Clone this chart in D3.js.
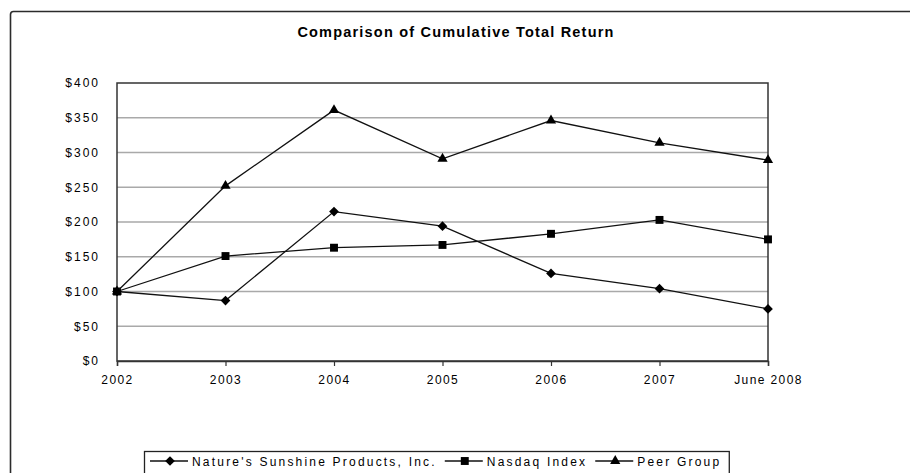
<!DOCTYPE html>
<html>
<head>
<meta charset="utf-8">
<script src="https://cdn.jsdelivr.net/npm/d3@7/dist/d3.min.js"></script>
<style>
  html, body { margin: 0; padding: 0; background: #fff; }
  svg { display: block; }
  text { font-family: "Liberation Sans", Arial, sans-serif; fill: #000; }
</style>
</head>
<body>
<svg id="chart" width="910" height="473"></svg>
<script>
// ---- data ----
const categories = ["2002", "2003", "2004", "2005", "2006", "2007", "June 2008"];
const natureSunshine = [100, 87, 215, 194, 126, 104, 75];
const nasdaqIndex    = [100, 151, 163, 167, 183, 203, 175];
const peerGroup      = [100, 252, 361, 291, 346, 314, 289];
const seriesNames = ["Nature's Sunshine Products, Inc.", "Nasdaq Index", "Peer Group"];
const seriesMarkers = ["diamond", "square", "triangle"];
const yTicks = [0, 50, 100, 150, 200, 250, 300, 350, 400];
const chartTitle = "Comparison of Cumulative Total Return";

const seriesValues = [natureSunshine, nasdaqIndex, peerGroup];

// ---- layout ----
const svg = d3.select("#chart");
const plot = { left: 117, right: 768, top: 83, bottom: 361 };

svg.append("rect").attr("x", 0).attr("y", 0).attr("width", 910).attr("height", 473).attr("fill", "#fff");

// outer chart border (extends beyond visible area)
svg.append("rect")
  .attr("x", 10.5).attr("y", 11.5).attr("width", 1000).attr("height", 1000)
  .attr("rx", 3).attr("fill", "none").attr("stroke", "#2b2b2b").attr("stroke-width", 1.6);

// title
svg.append("text")
  .attr("x", 456).attr("y", 37)
  .attr("text-anchor", "middle")
  .attr("font-size", "14.5px").attr("font-weight", "bold")
  .attr("letter-spacing", "1.2px")
  .text(chartTitle);

const x = d3.scalePoint().domain(categories).range([plot.left, plot.right]).padding(0);
const y = d3.scaleLinear().domain([0, 400]).range([plot.bottom, plot.top]);

// gridlines
svg.append("g")
  .selectAll("line")
  .data(yTicks.filter(t => t > 0 && t < 400))
  .join("line")
  .attr("x1", plot.left).attr("x2", plot.right)
  .attr("y1", d => y(d)).attr("y2", d => y(d))
  .attr("stroke", "#a9a9a9").attr("stroke-width", 1.5);

// plot border
svg.append("rect")
  .attr("x", plot.left).attr("y", plot.top)
  .attr("width", plot.right - plot.left).attr("height", plot.bottom - plot.top)
  .attr("fill", "none").attr("stroke", "#333").attr("stroke-width", 1.5);

// y axis
const yAxis = d3.axisLeft(y).tickValues(yTicks).tickSize(0).tickPadding(17)
  .tickFormat(d => "$" + d);
const gy = svg.append("g").attr("transform", `translate(${plot.left},0)`).call(yAxis);
gy.select(".domain").remove();
gy.selectAll("text").attr("font-size", "12px").attr("letter-spacing", "2px")
  .attr("font-family", "Liberation Sans, Arial, sans-serif").attr("fill", "#000");

// x axis
const xAxis = d3.axisBottom(x).tickSize(5).tickPadding(9);
const gx = svg.append("g").attr("transform", `translate(0,${plot.bottom})`).call(xAxis);
gx.select(".domain").attr("stroke", "#333").attr("stroke-width", 1.5);
gx.selectAll(".tick line").attr("stroke", "#333").attr("stroke-width", 1.2);
gx.selectAll("text").attr("font-size", "12px").attr("letter-spacing", "1.4px")
  .attr("font-family", "Liberation Sans, Arial, sans-serif").attr("fill", "#000");

// markers
const symbolFor = {
  diamond: d3.symbol().type(d3.symbolDiamond2).size(60),
  square: d3.symbol().type(d3.symbolSquare2).size(80),
  triangle: d3.symbol().type(d3.symbolTriangle2).size(75)
};

const line = d3.line().x((d, i) => x(categories[i])).y(d => y(d));

seriesValues.forEach((vals, si) => {
  svg.append("path")
    .attr("d", line(vals))
    .attr("fill", "none").attr("stroke", "#111").attr("stroke-width", 1.3);
  svg.append("g").selectAll("path")
    .data(vals)
    .join("path")
    .attr("transform", (d, i) => `translate(${x(categories[i])},${y(d)})`)
    .attr("d", symbolFor[seriesMarkers[si]]())
    .attr("fill", "#000");
});

// legend
const legend = svg.append("g");
const lgBox = legend.append("rect")
  .attr("x", 144.5).attr("y", 451.5).attr("height", 40)
  .attr("fill", "#fff").attr("stroke", "#222").attr("stroke-width", 1.3);
let lx = 150;
seriesNames.forEach((name, si) => {
  const ly = 461;
  legend.append("line").attr("x1", lx).attr("x2", lx + 38).attr("y1", ly).attr("y2", ly)
    .attr("stroke", "#111").attr("stroke-width", 1.5);
  legend.append("path").attr("transform", `translate(${lx + 20},${ly})`)
    .attr("d", symbolFor[seriesMarkers[si]]()).attr("fill", "#000");
  const t = legend.append("text").attr("x", lx + 42).attr("y", ly + 4.5)
    .attr("font-size", "12px").attr("letter-spacing", "2.2px").text(name);
  lx += 42 + t.node().getComputedTextLength() + 8;
});
lgBox.attr("width", lx - 144.5);
</script>
</body>
</html>
